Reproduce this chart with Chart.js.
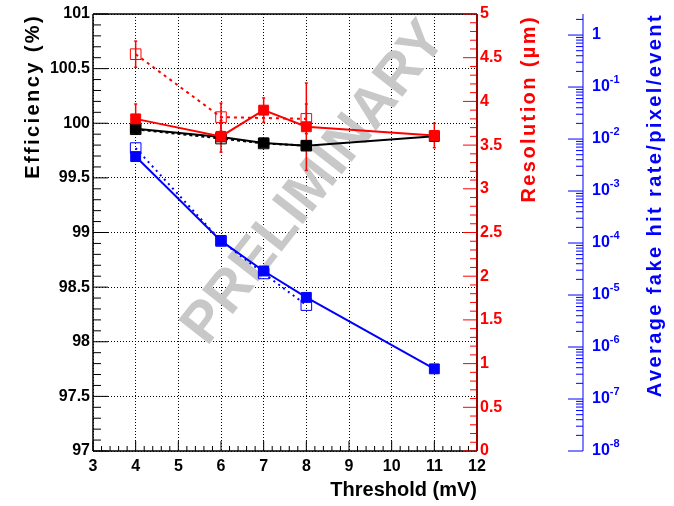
<!DOCTYPE html>
<html>
<head>
<meta charset="utf-8">
<title>Threshold scan</title>
<script src="https://cdn.jsdelivr.net/npm/chart.js@4.4.1/dist/chart.umd.min.js"></script>
<style>
    html, body { margin: 0; padding: 0; background: #fff; }
    canvas { display: block; }
</style>
</head>
<body>
<canvas id="chart" width="674" height="506"></canvas>
<script>
'use strict';

// threshold values (mV)
let thresholds = [4, 6, 7, 8, 11];

// efficiency (%)
let effSolid = [99.95, 99.875, 99.82, 99.795, 99.88];
let effSolidErr = [0.02, 0.02, 0.02, 0.035, 0.02];
let effDashedX = [4, 6, 7, 8];
let effDashed = [99.945, 99.86, 99.815, 99.795];
let effDashedErr = [0.02, 0.02, 0.02, 0.03];

// resolution (um)
let resSolid = [3.80, 3.60, 3.90, 3.71, 3.61];
let resSolidErr = [0.17, 0.18, 0.14, 0.5, 0.14];
let resDashedX = [4, 6, 8];
let resDashed = [4.54, 3.82, 3.80];
let resDashedErr = [0.15, 0.16, 0.17];

// average fake hit rate / pixel / event
let fakeSolid = [4.6e-3, 1.1e-4, 2.9e-5, 9.0e-6, 3.8e-7];
let fakeDashedX = [4, 6, 7, 8];
let fakeDashed = [6.7e-3, 1.1e-4, 2.6e-5, 6.4e-6];
let fakeDecades = [0, -1, -2, -3, -4, -5, -6, -7, -8];

const FONT = '"Liberation Sans", Arial, Helvetica, sans-serif';
const RED = '#ff0000';
const BLUE = '#0000ff';

function points(xs, ys, errs) {
    return xs.map((x, i) => ({ x: x, y: ys[i], err: errs ? errs[i] : 0 }));
}

function line(ctx, x1, y1, x2, y2) {
    ctx.beginPath();
    ctx.moveTo(x1, y1);
    ctx.lineTo(x2, y2);
    ctx.stroke();
}

function drawWatermark(chart) {
    let ctx = chart.ctx;
    let cx = chart.scales.x.getPixelForValue(8.2);
    let cy = chart.scales.y.getPixelForValue(99.45);
    ctx.save();
    ctx.translate(cx, cy);
    ctx.rotate(-52 * Math.PI / 180);
    ctx.font = 'bold 57px ' + FONT;
    ctx.fillStyle = 'rgb(200,200,200)';
    ctx.textAlign = 'center';
    ctx.textBaseline = 'middle';
    ctx.fillText('PRELIMINARY', 0, 0);
    ctx.restore();
}

function drawAxes(chart) {
    let ctx = chart.ctx,
        a = chart.chartArea,
        sx = chart.scales.x,
        sy = chart.scales.y,
        sr = chart.scales.yRes,
        sf = chart.scales.yFake;

    ctx.save();

    // frame
    ctx.strokeStyle = '#000';
    ctx.lineWidth = 1.5;
    line(ctx, a.left, a.top, a.right, a.top);
    line(ctx, a.left, a.top, a.left, a.bottom);
    line(ctx, a.left, a.bottom, a.right, a.bottom);

    ctx.lineWidth = 1;
    for (let k = 0; k <= 40; k++) {
        let y = sy.getPixelForValue(97 + k * 0.1);
        line(ctx, a.left, y, a.left + (k % 5 === 0 ? 15 : 8), y);
    }
    for (let k = 0; k <= 45; k++) {
        let x = sx.getPixelForValue(3 + k * 0.2);
        line(ctx, x, a.bottom, x, a.bottom - (k % 5 === 0 ? 10 : 5));
    }

    // resolution axis
    ctx.strokeStyle = RED;
    for (let k = 0; k <= 50; k++) {
        let y = sr.getPixelForValue(k * 0.1);
        line(ctx, a.right, y, a.right - (k % 5 === 0 ? 14 : 7), y);
    }
    ctx.strokeStyle = '#a00000';
    ctx.lineWidth = 2;
    line(ctx, a.right, a.top, a.right, a.bottom);

    // fake hit rate axis
    let bx = sf.left;
    ctx.strokeStyle = BLUE;
    ctx.lineWidth = 1;
    line(ctx, bx, sf.top, bx, sf.bottom);
    for (let p = -8; p <= 0; p++) {
        for (let m = 1; m <= 9; m++) {
            let v = m * Math.pow(10, p);
            if (v > sf.max) {
                continue;
            }
            let y = sf.getPixelForValue(v);
            line(ctx, bx, y, bx - (m === 1 ? 15 : 7), y);
        }
    }

    ctx.fillStyle = BLUE;
    ctx.textBaseline = 'middle';
    ctx.textAlign = 'left';
    fakeDecades.forEach(p => {
        let y = sf.getPixelForValue(Math.pow(10, p));
        ctx.font = 'bold 16px ' + FONT;
        if (p === 0) {
            ctx.fillText('1', bx + 9, y);
            return;
        }
        ctx.fillText('10', bx + 9, y);
        let w = ctx.measureText('10').width;
        ctx.font = 'bold 11px ' + FONT;
        ctx.fillText(String(p), bx + 9 + w, y - 7);
    });

    ctx.restore();
}

function drawErrorBars(chart) {
    let ctx = chart.ctx;
    chart.data.datasets.forEach((ds, i) => {
        let meta = chart.getDatasetMeta(i);
        let scale = chart.scales[ds.yAxisID];
        ctx.save();
        ctx.strokeStyle = ds.borderColor;
        ctx.lineWidth = 1.5;
        meta.data.forEach((el, j) => {
            let raw = ds.data[j];
            if (!raw.err) {
                return;
            }
            let y1 = scale.getPixelForValue(raw.y + raw.err);
            let y2 = scale.getPixelForValue(raw.y - raw.err);
            line(ctx, el.x, y1, el.x, y2);
            line(ctx, el.x - 1.5, y1, el.x + 1.5, y1);
            line(ctx, el.x - 1.5, y2, el.x + 1.5, y2);
        });
        ctx.restore();
    });
}

function drawTitle(ctx, text, x, yEnd, color) {
    ctx.save();
    ctx.translate(x, yEnd);
    ctx.rotate(-Math.PI / 2);
    ctx.font = 'bold 20px ' + FONT;
    ctx.letterSpacing = '2.4px';
    ctx.fillStyle = color;
    ctx.textAlign = 'right';
    ctx.textBaseline = 'middle';
    ctx.fillText(text, 0, 0);
    ctx.restore();
}

const decorPlugin = {
    id: 'decor',
    beforeDatasetsDraw(chart) {
        drawWatermark(chart);
        drawAxes(chart);
        drawErrorBars(chart);
    },
    afterDraw(chart) {
        drawTitle(chart.ctx, 'Efficiency (%)', 33.5, 14, '#000');
        drawTitle(chart.ctx, 'Resolution (\u00b5m)', 529, 15, RED);
        drawTitle(chart.ctx, 'Average fake hit rate/pixel/event', 655, 13, BLUE);
    }
};

function filled(label, xs, ys, errs, color, axis) {
    return {
        label: label,
        data: points(xs, ys, errs),
        yAxisID: axis,
        borderColor: color,
        backgroundColor: color,
        borderWidth: 2,
        pointStyle: 'rect',
        pointRadius: 7,
        pointBorderWidth: 1,
        pointBackgroundColor: color,
        tension: 0
    };
}

function open(label, xs, ys, errs, color, axis, dash) {
    return {
        label: label,
        data: points(xs, ys, errs),
        yAxisID: axis,
        borderColor: color,
        backgroundColor: 'rgba(0,0,0,0)',
        borderWidth: 2,
        borderDash: dash,
        pointStyle: 'rect',
        pointRadius: 7.5,
        pointBorderWidth: 1,
        pointBackgroundColor: 'rgba(0,0,0,0)',
        tension: 0
    };
}

function tickFont() {
    return { family: FONT, size: 16, weight: 'bold' };
}

function plainLabel(value) {
    return String(Number(value.toFixed(2)));
}

function start() {
    let ctx = document.getElementById('chart').getContext('2d');

    new Chart(ctx, {
        type: 'line',
        data: {
            datasets: [
                filled('Resolution', thresholds, resSolid, resSolidErr, RED, 'yRes'),
                filled('Efficiency', thresholds, effSolid, effSolidErr, '#000', 'y'),
                filled('Fake hit rate', thresholds, fakeSolid, null, BLUE, 'yFake'),
                open('Resolution (2)', resDashedX, resDashed, resDashedErr, RED, 'yRes', [3, 4]),
                open('Efficiency (2)', effDashedX, effDashed, effDashedErr, '#000', 'y', [3, 3]),
                open('Fake hit rate (2)', fakeDashedX, fakeDashed, null, BLUE, 'yFake', [2, 4])
            ]
        },
        options: {
            responsive: false,
            animation: false,
            devicePixelRatio: 1,
            layout: { padding: { top: 14, left: 0, right: 0, bottom: 0 } },
            plugins: {
                legend: { display: false },
                tooltip: { enabled: false }
            },
            scales: {
                x: {
                    type: 'linear',
                    min: 3,
                    max: 12,
                    afterFit: scale => { scale.height = 55; },
                    ticks: { stepSize: 1, padding: 6, color: '#000', font: tickFont(), callback: plainLabel },
                    grid: { color: '#000', lineWidth: 1, drawTicks: false },
                    border: { display: false, dash: [1, 2] },
                    title: {
                        display: true,
                        text: 'Threshold (mV)',
                        align: 'end',
                        color: '#000',
                        font: { family: FONT, size: 20, weight: 'bold' },
                        padding: { top: 0, bottom: 4 }
                    }
                },
                y: {
                    type: 'linear',
                    position: 'left',
                    min: 97,
                    max: 101,
                    afterFit: scale => { scale.width = 93; },
                    ticks: { stepSize: 0.5, padding: 3, color: '#000', font: tickFont(), callback: plainLabel },
                    grid: { color: '#000', lineWidth: 1, drawTicks: false },
                    border: { display: false, dash: [1, 2] }
                },
                yRes: {
                    type: 'linear',
                    position: 'right',
                    weight: 0,
                    min: 0,
                    max: 5,
                    afterFit: scale => { scale.width = 106; },
                    ticks: { stepSize: 0.5, padding: 3, color: RED, font: tickFont(), callback: plainLabel },
                    grid: { display: false, drawTicks: false },
                    border: { display: false }
                },
                yFake: {
                    type: 'logarithmic',
                    position: 'right',
                    weight: 1,
                    min: 1e-8,
                    max: 2.54,
                    bounds: 'data',
                    afterFit: scale => { scale.width = 91; },
                    ticks: { display: false },
                    grid: { display: false, drawTicks: false },
                    border: { display: false }
                }
            }
        },
        plugins: [decorPlugin]
    });
}

start();
</script>
</body>
</html>
